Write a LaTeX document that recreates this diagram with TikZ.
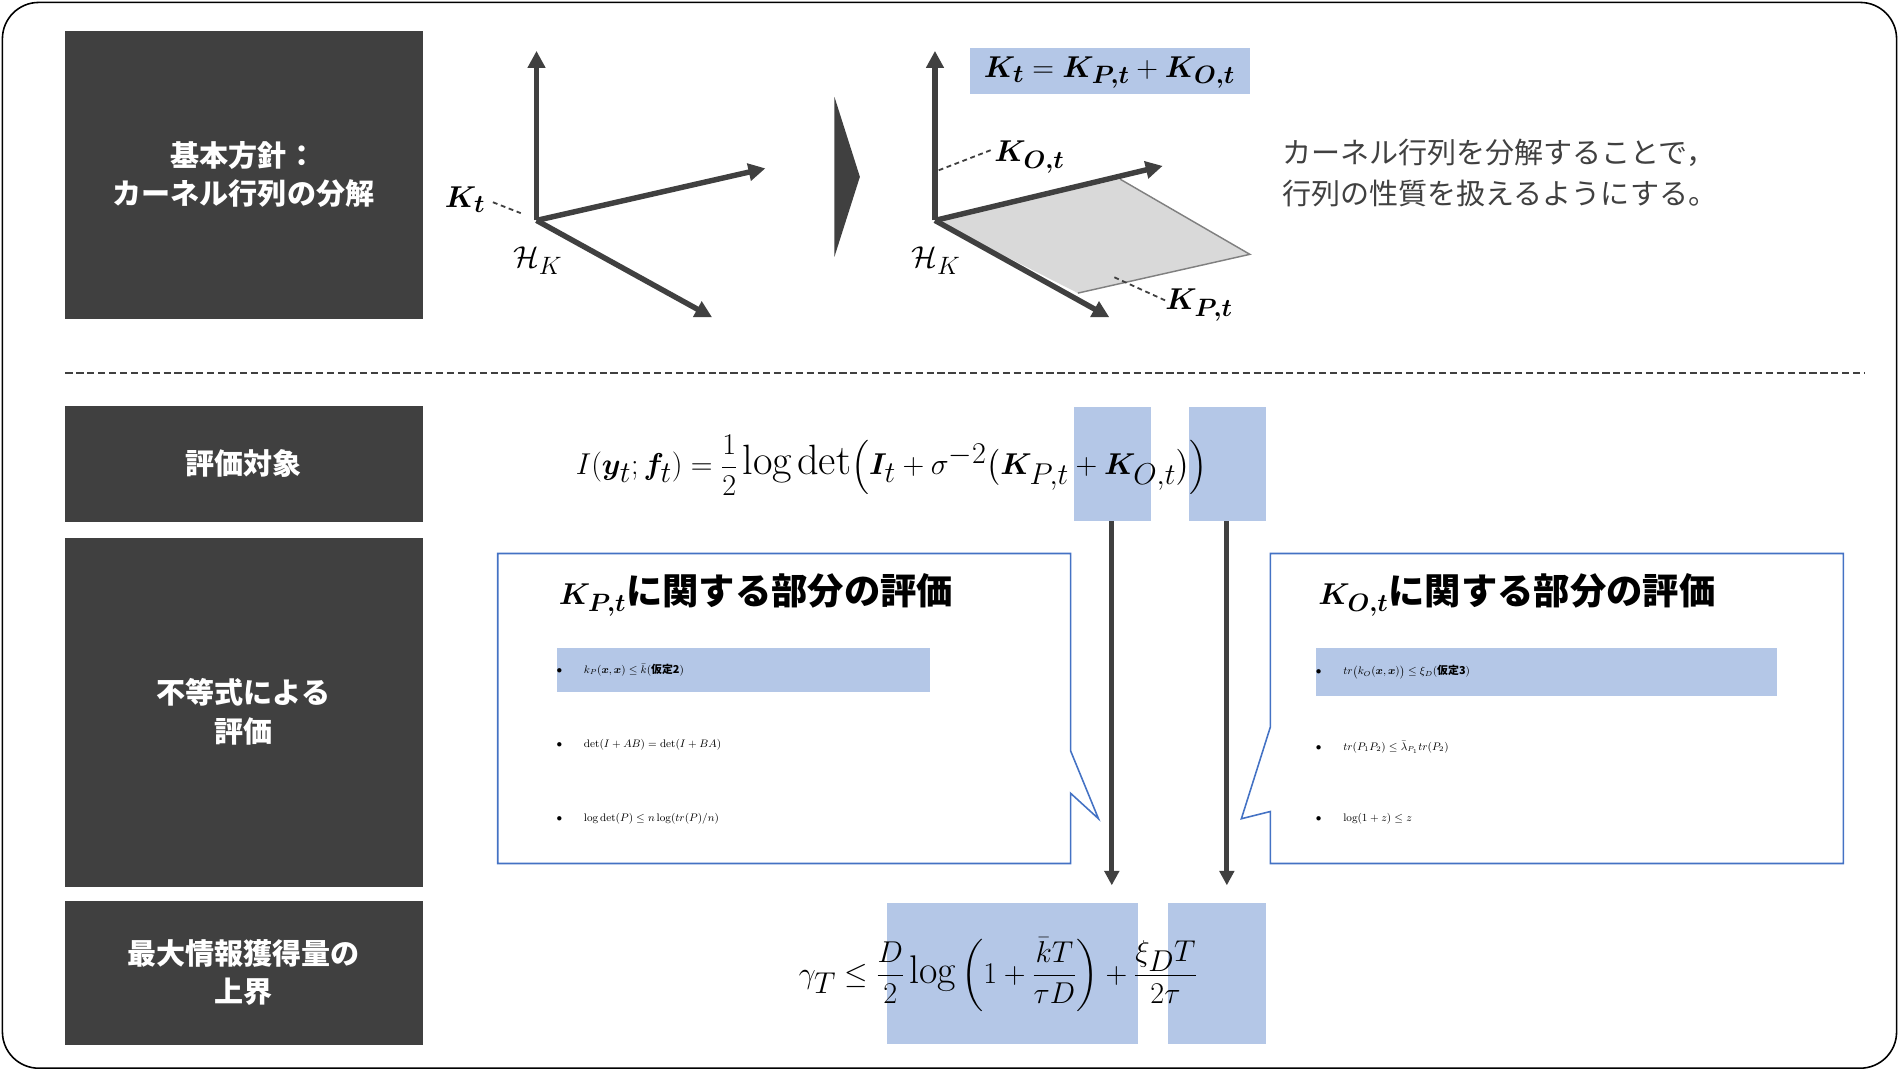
\documentclass[tikz,border=0pt]{standalone}
\usepackage{amsmath,bm}
\usepackage{fontspec}
\newfontfamily\jp{Noto Sans CJK JP}
\usetikzlibrary{arrows.meta}
\definecolor{dk}{HTML}{404040}
\definecolor{hl}{HTML}{B4C7E7}
\definecolor{bl}{HTML}{4472C4}
\tikzset{
  lbox/.style={fill=dk,draw=none},
  ltext/.style={text=white,font=\jp\bfseries\fontsize{24}{32}\selectfont,align=center},
  axis/.style={draw=dk,line width=4.5pt,-{Triangle[length=14pt,width=14pt]}},
  lead/.style={draw=dk,dash pattern=on 4pt off 3pt,line width=1.5pt},
  callout/.style={draw=bl,line width=1.3pt,fill=white},
  bul/.style={anchor=west,font=\fontsize{30}{34}\selectfont},
  ttl/.style={anchor=west,font=\jp\bfseries\fontsize{30}{34}\selectfont},
  mth/.style={font=\fontsize{30}{34}\selectfont},
  down/.style={draw=dk,line width=4pt,-{Triangle[length=12pt,width=12pt]}}
}
\begin{document}
\begin{tikzpicture}[x=1pt,y=-1pt]
\useasboundingbox (0,0) rectangle (1568,884);
\draw[line width=1.3pt,rounded corners=30pt] (2,2) rectangle (1566,882);
% left labels
\fill[lbox] (54,26) rectangle (349,263);
\fill[lbox] (54,335) rectangle (349,431);
\fill[lbox] (54,444) rectangle (349,732);
\fill[lbox] (54,744) rectangle (349,863);
\node[ltext] (l1) at (201,144) {基本方針：\\カーネル行列の分解};
\node[ltext] (l2) at (201,383) {評価対象};
\node[ltext] (l3) at (201,588) {不等式による\\評価};
\node[ltext] (l4) at (201,803) {最大情報獲得量の\\上界};
\draw[dk,line width=1pt,dash pattern=on 6pt off 3pt] (54,308) -- (1540,308);
% left axes
\coordinate (o1) at (443,182);
\coordinate (a1) at (443,42);
\coordinate (b1) at (632,139);
\coordinate (c1) at (588,262);
\draw[axis] (o1) -- (a1);
\draw[axis] (o1) -- (b1);
\draw[axis] (o1) -- (c1);
\node[mth] (kt) at (384,165) {$\bm{K_t}$};
\coordinate (kte) at (430,176);
\draw[lead] (407,167) -- (kte);
\node[mth] (hk1) at (444,215) {$\mathcal{H}_K$};
% triangle
\fill[dk] (689,80) -- (710,146) -- (689,212) -- cycle;
% right axes
\coordinate (o2) at (772,182);
\fill[gray!30] (o2) -- (925,148) -- (1032,210) -- (890,242) -- cycle;
\draw[gray,line width=1.2pt] (925,148) -- (1032,210) -- (890,242);
\draw[axis] (o2) -- (772,42);
\draw[axis] (o2) -- (960,137);
\draw[axis] (o2) -- (916,262);
\node[mth] (hk2) at (773,215) {$\mathcal{H}_K$};
\node[mth] (ko) at (850,130) {$\bm{K_{O,t}}$};
\coordinate (koe) at (774,141);
\draw[lead] (818,124) -- (koe);
\node[mth] (kp) at (990,252) {$\bm{K_{P,t}}$};
\coordinate (kpe) at (918,228);
\draw[lead] (962,248) -- (kpe);
\fill[hl] (801,40) rectangle (1032,78);
\node[mth] (keq) at (916,60) {$\bm{K_t}=\bm{K_{P,t}}+\bm{K_{O,t}}$};
\node[anchor=west,text=dk,font=\jp\fontsize{24}{34}\selectfont,align=left] (rt) at (1055,143) {カーネル行列を分解することで，\\行列の性質を扱えるようにする。};
% target formula
\fill[hl] (887,336) rectangle (950,430);
\fill[hl] (982,336) rectangle (1045,430);
\node[font=\fontsize{35}{40}\selectfont,anchor=west] (f1) at (472,384) {$I(\bm{y}_t;\bm{f}_t)=\dfrac{1}{2}\log\det\Bigl(\bm{I}_t+\sigma^{-2}\bigl(\bm{K}_{P,t}+\bm{K}_{O,t}\bigr)\Bigr)$};
\coordinate (s1) at (918,430);
\coordinate (s2) at (1013,430);
\coordinate (e1) at (918,731);
\coordinate (e2) at (1013,731);
% callouts
\draw[callout] (411,457) -- (884,457) -- (884,620) -- (907,676) -- (884,655) -- (884,713) -- (411,713) -- cycle;
\draw[callout] (1049,457) -- (1522,457) -- (1522,713) -- (1049,713) -- (1049,670) -- (1025,676) -- (1049,600) -- cycle;
\draw[down] (s1) -- (e1);
\draw[down] (s2) -- (e2);
\node[ttl] (t1) at (458,491) {$\bm{K_{P,t}}$に関する部分の評価};
\fill[hl] (460,535) rectangle (768,571);
\node[bul] (b11) at (456,553) {\small$\bullet$\hspace{18pt}$k_P(\bm{x},\bm{x})\le\bar{k}$\textrm{(}{\jp\bfseries 仮定2}\textrm{)}};
\node[bul] (b12) at (456,615) {\small$\bullet$\hspace{18pt}$\det(I+AB)=\det(I+BA)$};
\node[bul] (b13) at (456,676) {\small$\bullet$\hspace{18pt}$\log\det(P)\le n\log(tr(P)/n)$};
\node[ttl] (t2) at (1085,491) {$\bm{K_{O,t}}$に関する部分の評価};
\fill[hl] (1087,535) rectangle (1467,575);
\node[bul] (b21) at (1083,555) {\small$\bullet$\hspace{18pt}$tr\bigl(k_O(\bm{x},\bm{x})\bigr)\le\xi_D$\textrm{(}{\jp\bfseries 仮定3}\textrm{)}};
\node[bul] (b22) at (1083,617) {\small$\bullet$\hspace{18pt}$tr(P_1P_2)\le\bar{\lambda}_{P_1}tr(P_2)$};
\node[bul] (b23) at (1083,676) {\small$\bullet$\hspace{18pt}$\log(1+z)\le z$};
% bottom
\fill[hl] (732,746) rectangle (940,862);
\fill[hl] (964,746) rectangle (1045,862);
\node[font=\fontsize{33}{38}\selectfont,anchor=west] (f2) at (656,805) {$\gamma_T\le\dfrac{D}{2}\log\left(1+\dfrac{\bar{k}T}{\tau D}\right)+\dfrac{\xi_D T}{2\tau}$};
\end{tikzpicture}
\end{document}
